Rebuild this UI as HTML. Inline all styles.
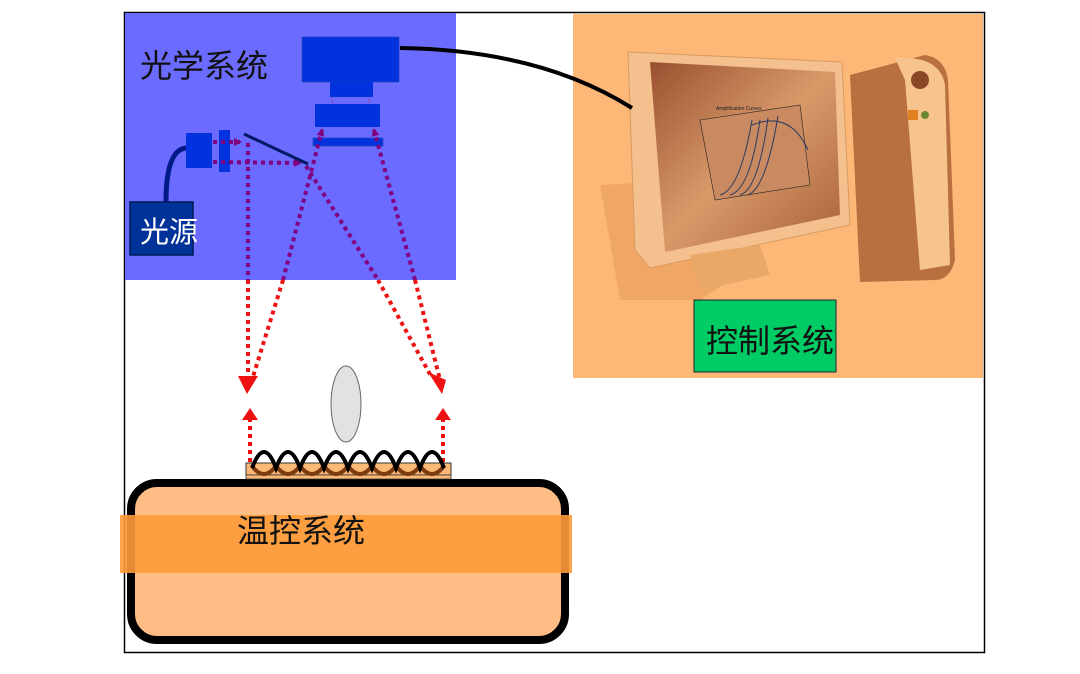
<!DOCTYPE html>
<html><head><meta charset="utf-8"><style>
html,body{margin:0;padding:0;background:#fff;width:1080px;height:674px;overflow:hidden}
text{font-family:"Liberation Sans","Noto Sans CJK SC",sans-serif}
</style></head><body>
<svg width="1080" height="674" viewBox="0 0 1080 674" xmlns="http://www.w3.org/2000/svg">
<defs>
<marker id="pa" markerWidth="8" markerHeight="8" refX="6" refY="4" orient="auto" markerUnits="userSpaceOnUse"><path d="M0,0 L8,4 L0,8 z" fill="#800080"/></marker>
<linearGradient id="scr" x1="0" y1="0" x2="1" y2="1"><stop offset="0" stop-color="#9a5030"/><stop offset="0.5" stop-color="#d99a6a"/><stop offset="1" stop-color="#a86038"/></linearGradient>
</defs>
<rect x="124.5" y="12.5" width="860" height="640" fill="#fff" stroke="#000" stroke-width="1.5"/>
<rect x="125" y="13" width="331" height="267" fill="#6b6bff"/>
<text x="140" y="77" font-size="32" fill="#111">光学系统</text>
<rect x="573" y="14" width="410" height="364" fill="#fdb877"/>
<path d="M850,75 L925,55 Q945,58 948,80 L955,260 Q950,280 935,280 L860,282 Z" fill="#b87040"/>
<path d="M895,58 Q940,55 945,85 L950,265 L920,270 L905,80 Z" fill="#f6c48c"/>
<circle cx="920" cy="80" r="9" fill="#8a4a2a"/>
<rect x="908" y="110" width="10" height="10" fill="#e08020"/><circle cx="925" cy="115" r="4" fill="#6a8a30"/>
<path d="M600,185 L690,180 L760,260 L700,300 L620,300 Z" fill="#e9a060" opacity="0.7"/>
<path d="M628,52 L842,62 L850,225 L650,268 L635,250 Z" fill="#f3c08e" stroke="#d89a60"/>
<path d="M650,62 L835,72 L840,215 L665,252 Z" fill="url(#scr)"/>
<path d="M700,120 L800,105 L810,185 L715,200 Z" fill="#c98a62" stroke="#222" stroke-width="0.6"/>
<path d="M720,195 Q740,190 752,120 M730,195 Q750,190 760,120 M740,195 Q758,190 768,118 M748,195 Q766,188 778,116 M752,125 Q790,110 808,150" fill="none" stroke="#2a3a60" stroke-width="1"/>
<text x="716" y="110" font-size="5" fill="#222">Amplification Curves</text>
<path d="M690,255 L760,245 L770,275 L700,290 Z" fill="#e9a868"/>
<path d="M400,48 Q540,50 632,108" fill="none" stroke="#000" stroke-width="4"/>
<rect x="694" y="300" width="142" height="72" fill="#00cc66" stroke="#222" stroke-width="1"/>
<text x="706" y="352" font-size="32" fill="#111">控制系统</text>
<rect x="302" y="37" width="97" height="45" fill="#0033dd" stroke="#2244aa" stroke-width="0.6"/>
<rect x="330" y="82" width="43" height="15" fill="#0033dd"/>
<line x1="332" y1="97" x2="332" y2="104" stroke="#7a52c8"/><line x1="369" y1="97" x2="369" y2="104" stroke="#7a52c8"/>
<rect x="315" y="104" width="65" height="23" fill="#0033dd"/>
<rect x="313" y="138" width="70" height="8" fill="#0033dd" stroke="#2244aa" stroke-width="0.6"/>
<path d="M186,148 Q166,150 166,202" fill="none" stroke="#001a88" stroke-width="5"/>
<rect x="186" y="133" width="26" height="35" fill="#0033dd"/>
<rect x="219" y="130" width="11" height="42" fill="#0033dd"/>
<line x1="244" y1="134" x2="308" y2="164" stroke="#001a66" stroke-width="3"/>
<rect x="130" y="202" width="63" height="53" fill="#003399" stroke="#001a55" stroke-width="1.5"/>
<text x="140" y="242" font-size="29" fill="#fff">光源</text>
<g stroke="#800080" stroke-width="4" stroke-dasharray="4,4" fill="none">
<line x1="213" y1="142" x2="240" y2="142" marker-end="url(#pa)"/>
<line x1="213" y1="162" x2="300" y2="163" marker-end="url(#pa)"/>
<line x1="248" y1="143" x2="248" y2="280"/>
<line x1="283" y1="280" x2="322" y2="130" marker-end="url(#pa)"/>
<line x1="306" y1="166" x2="378" y2="280"/>
<line x1="415" y1="280" x2="374" y2="130" marker-end="url(#pa)"/>
</g>
<g stroke="#ee1111" stroke-width="4" stroke-dasharray="4,4" fill="none">
<line x1="248" y1="280" x2="248" y2="380"/>
<line x1="283" y1="280" x2="252" y2="380"/>
<line x1="378" y1="280" x2="432" y2="378"/>
<line x1="415" y1="280" x2="440" y2="380"/>
<line x1="250" y1="462" x2="250" y2="420"/>
<line x1="443" y1="462" x2="443" y2="420"/>
</g>
<g fill="#ee1111">
<path d="M238,376 L258,376 L247,394 Z"/>
<path d="M428,372 L446,380 L442,394 Z"/>
<path d="M242,420 L258,420 L250,408 Z"/>
<path d="M435,420 L451,420 L443,408 Z"/>
</g>
<rect x="131" y="483" width="434" height="157" rx="26" fill="#fdbd85" stroke="#000" stroke-width="8"/>
<rect x="120" y="515" width="452" height="58" fill="#fd9a3a" opacity="0.9"/>
<text x="237" y="542" font-size="32" fill="#111">温控系统</text>
<rect x="246" y="463" width="205" height="12" fill="#fdb877" stroke="#333" stroke-width="1"/>
<rect x="246" y="475" width="205" height="4" fill="#fdb877" stroke="#333" stroke-width="0.8"/>
<path d="M252,466 Q264,482 276,466 Q288,482 300,466 Q312,482 324,466 Q336,482 348,466 Q360,482 372,466 Q384,482 396,466 Q408,482 420,466 Q432,482 444,466" fill="none" stroke="#7a3c10" stroke-width="4"/>
<path d="M252,468 Q264,436 276,468 Q288,436 300,468 Q312,436 324,468 Q336,436 348,468 Q360,436 372,468 Q384,436 396,468 Q408,436 420,468 Q432,436 444,468" fill="none" stroke="#000" stroke-width="4"/>
<ellipse cx="346" cy="404" rx="15" ry="38" fill="#e2e2e2" stroke="#666" stroke-width="1"/>
</svg>
</body></html>
